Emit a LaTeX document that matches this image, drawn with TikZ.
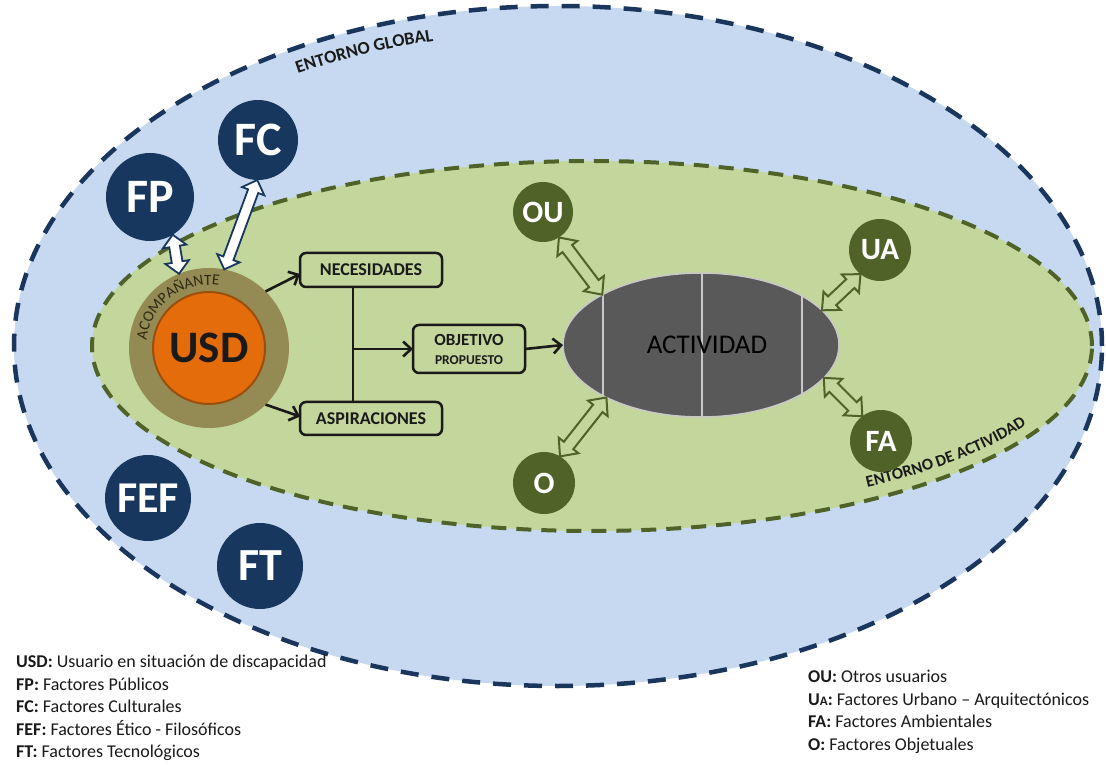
\documentclass[tikz,border=0pt]{standalone}
\usepackage{fontspec}
\setmainfont{Carlito}
\usetikzlibrary{shapes.geometric,shapes.arrows,arrows.meta,calc,decorations.text}

\definecolor{globalfill}{HTML}{C6D9F0}
\definecolor{globalline}{HTML}{1B365D}
\definecolor{actfill}{HTML}{C3D69B}
\definecolor{actline}{HTML}{4F6228}
\definecolor{navy}{HTML}{17375E}
\definecolor{olive}{HTML}{4F6228}
\definecolor{tanring}{HTML}{948A54}
\definecolor{usdorange}{HTML}{E46C0A}
\definecolor{usdedge}{HTML}{9A4F0C}
\definecolor{actgray}{HTML}{595959}
\definecolor{actedge}{HTML}{C8C8C8}
\definecolor{ink}{HTML}{1A1A1A}
\definecolor{ringtext}{HTML}{2E2A14}

\newcommand\pxfont[1]{\fontsize{#1}{#1}\selectfont}

% hollow two-headed arrow between two points: style, name, from, to
\newcommand\linkarrow[4]{%
  \path let \p1=(#3), \p2=(#4),
    \n1={atan2(\y2-\y1,\x2-\x1)}, \n2={veclen(\x2-\x1,\y2-\y1)} in
    node[#1, rotate=\n1, minimum height=\n2] (#2) at ($(#3)!0.5!(#4)$) {};}

\tikzset{
  globalzone/.style={fill=globalfill, draw=globalline, line width=4.5pt,
    dash pattern=on 18pt off 13pt},
  actzone/.style={fill=actfill, draw=actline, line width=4pt,
    dash pattern=on 15pt off 10pt},
  factor/.style={circle, fill=navy, text=white, font=\bfseries\pxfont{48},
    inner sep=0pt, outer sep=0pt},
  agent/.style={circle, fill=olive, text=white, font=\bfseries\pxfont{31},
    inner sep=0pt, outer sep=0pt, minimum size=62pt},
  stage/.style={draw=ink, line width=2.5pt, rounded corners=6pt, fill=actfill,
    text=ink, font=\bfseries\pxfont{18}, inner sep=0pt, outer sep=0pt},
  flow/.style={draw=ink, line width=2.6pt,
    -{Straight Barb[length=8pt, width=15pt, line width=2.6pt]}},
  bluelink/.style={double arrow, draw=navy, fill=white, line width=1.8pt,
    inner sep=4.5pt, double arrow head extend=6.5pt, double arrow tip angle=90},
  greenlink/.style={double arrow, draw=olive, fill=actfill, line width=2pt,
    inner sep=5pt, double arrow head extend=6.5pt, double arrow tip angle=84},
  actdiv/.style={draw=actedge, line width=1.3pt},
  legend/.style={anchor=base west, font=\pxfont{18}, text=ink, inner sep=0pt},
}

\begin{document}
\begin{tikzpicture}[x=1pt, y=1pt]
\useasboundingbox (0,0) rectangle (1106,764);
\fill[white] (0,0) rectangle (1106,764);

% global environment
\coordinate (cg) at (558,418);
\draw[globalzone] (cg) ellipse[x radius=544, y radius=340];
\path[decorate, decoration={text along path, text align=center, text color=ink,
    text={|\bfseries\pxfont{18}|ENTORNO GLOBAL}}]
  ($(cg)+(124:522 and 314)$) arc[start angle=124, end angle=100,
    x radius=522, y radius=314];

% activity environment
\coordinate (ca) at (592,418);
\draw[actzone] (ca) ellipse[x radius=500, y radius=185];
\path[decorate, decoration={text along path, text align=center, text color=ink,
    text={|\bfseries\pxfont{16.5}|ENTORNO DE ACTIVIDAD}}]
  ($(ca)+(-58:490 and 171)$) arc[start angle=-58, end angle=-24,
    x radius=490, y radius=171];

% global factors
\node[factor, minimum size=80pt] (fc) at (258,624) {FC};
\node[factor, minimum size=88pt] (fp) at (150,567) {FP};
\node[factor, minimum size=86pt, font=\bfseries\pxfont{44}] (fef) at (148,266) {FEF};
\node[factor, minimum size=86pt, font=\bfseries\pxfont{46}] (ft) at (260,198) {FT};

% user and companion
\node[circle, fill=tanring, minimum size=160pt, inner sep=0pt, outer sep=0pt]
  (usd) at (209,416) {};
\node[circle, fill=usdorange, draw=usdedge, line width=2pt, minimum size=112pt,
  inner sep=0pt, text=ink, font=\bfseries\pxfont{45}] (usdcore) at (usd.center) {USD};
\path[decorate, decoration={text along path, text align=center, text color=ringtext,
    text={|\pxfont{15.5}|ACOMPAÑANTE}}]
  ($(usd.center)+(176:63)$) arc[start angle=176, end angle=78, radius=63];

% needs, aspirations and goal
\node[stage, minimum width=142pt, minimum height=34pt] (nec) at (371,494) {NECESIDADES};
\node[stage, minimum width=142pt, minimum height=33pt] (asp) at (371,345.5) {ASPIRACIONES};
\node[stage, minimum width=112pt, minimum height=48pt, align=center] (obj) at (469,415)
  {\pxfont{17}OBJETIVO\\[1pt]\pxfont{13.5}PROPUESTO};

% activity
\node[ellipse, fill=actgray, draw=actedge, line width=1.5pt, minimum width=276pt,
  minimum height=144pt, inner sep=0pt, outer sep=0pt, text=black, font=\pxfont{27},
  path picture={\foreach \dx in {-98,1,101}
    \draw[actdiv] ([xshift=\dx pt]path picture bounding box.south)
      -- ([xshift=\dx pt]path picture bounding box.north);}]
  (act) at (701,419) {\hspace*{12pt}ACTIVIDAD};

% activity agents
\node[agent, minimum size=60pt] (ou) at (543,552) {OU};
\node[agent] (ua) at (880,514) {UA};
\node[agent] (fa) at (881,323) {FA};
\node[agent] (o) at (544,281) {O};

% flow from the user to the activity
\draw[flow] (usd.45) -- ([yshift=-4pt]nec.west);
\draw[flow] (usd.-45) -- ([yshift=2pt]asp.west);
\coordinate (jn) at ([xshift=-18pt]nec.south);
\coordinate (ja) at ([xshift=-18pt]asp.north);
\draw[draw=ink, line width=2.6pt] (jn) -- (ja);
\draw[flow] (jn |- obj.west) -- (obj.west);
\draw[flow] (obj.east) -- (act.west);

% interactions
\linkarrow{bluelink}{lfp}{fp.-59}{usd.112}
\linkarrow{bluelink}{lfc}{fc.-91}{usd.79}
\linkarrow{greenlink}{lou}{ou.-58}{act.153}
\linkarrow{greenlink}{lo}{o.59}{act.-151}
\linkarrow{greenlink}{lua}{act.16}{ua.-129}
\linkarrow{greenlink}{lfa}{act.-15}{fa.127}

% legends
\node[legend] (lg1) at (16,96.5) {\textbf{USD:} Usuario en situación de discapacidad};
\node[legend] (lg2) at (16,74) {\textbf{FP:} Factores Públicos};
\node[legend] (lg3) at (16,51.5) {\textbf{FC:} Factores Culturales};
\node[legend] (lg4) at (16,29) {\textbf{FEF:} Factores Ético - Filosóficos};
\node[legend] (lg5) at (16,6.5) {\textbf{FT:} Factores Tecnológicos};

\node[legend] (lr1) at (808,81.5) {\textbf{OU:} Otros usuarios};
\node[legend] (lr2) at (808,59) {\textbf{U{\pxfont{13}A}:} Factores Urbano – Arquitectónicos};
\node[legend] (lr3) at (808,36.5) {\textbf{FA:} Factores Ambientales};
\node[legend] (lr4) at (808,14) {\textbf{O:} Factores Objetuales};
\end{tikzpicture}
\end{document}
